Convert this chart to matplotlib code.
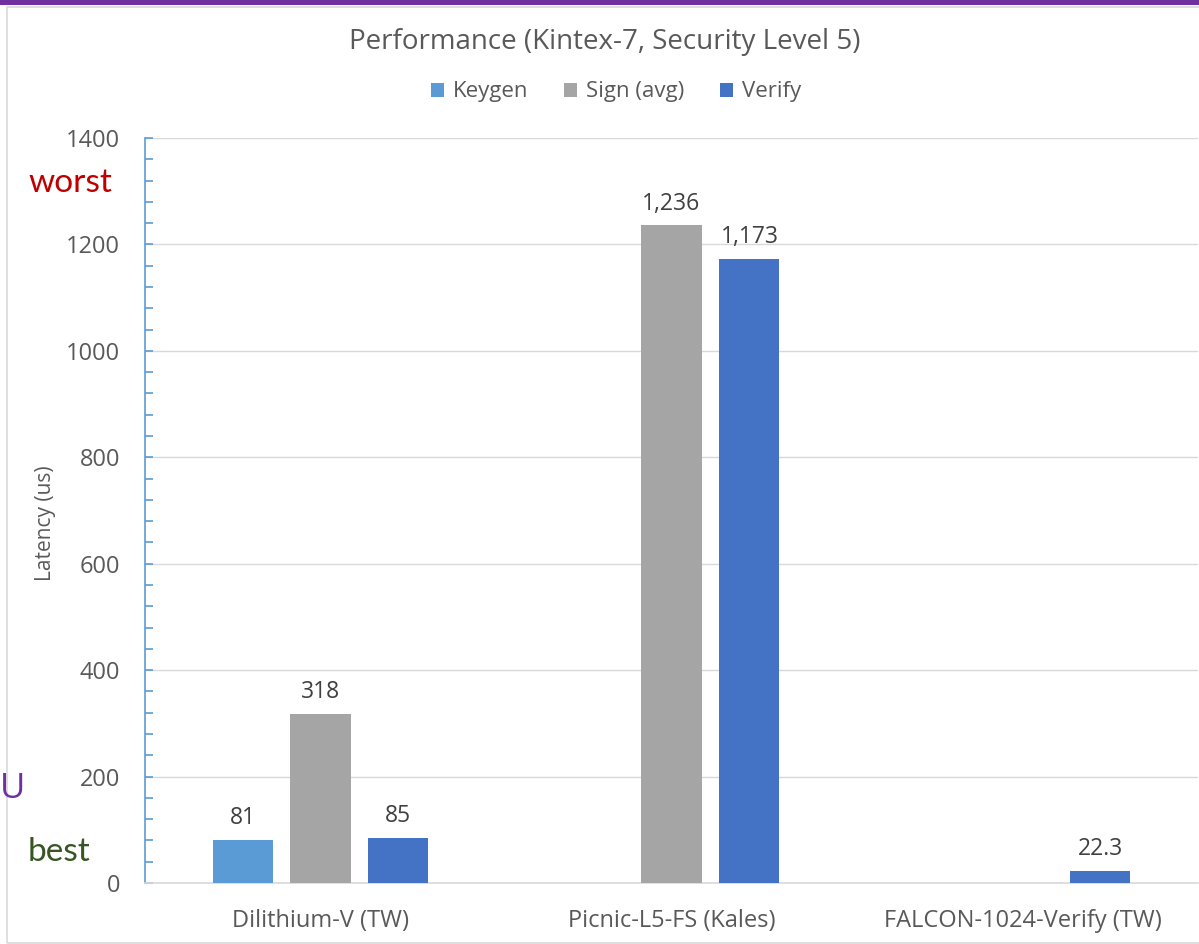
import numpy as np
import matplotlib.pyplot as plt
from matplotlib.patches import Rectangle
from matplotlib.ticker import MultipleLocator

# Latency per design, microseconds (NaN where no result was reported)
designs = ["Dilithium-V (TW)", "Picnic-L5-FS (Kales)", "FALCON-1024-Verify (TW)"]
keygen = [81, np.nan, np.nan]
sign_avg = [318, 1236, np.nan]
verify = [85, 1173, 22.3]

series = [("Keygen", keygen, "#5B9BD5"),
          ("Sign (avg)", sign_avg, "#A5A5A5"),
          ("Verify", verify, "#4472C4")]

plt.rcParams['font.family'] = ['Open Sans', 'DejaVu Sans']
text_gray = "#595959"

fig = plt.figure(figsize=(11.99, 9.44), dpi=100)
ax = fig.add_axes([145 / 1199, 61 / 944, 1053 / 1199, 745 / 944])

# chart frame and purple top band
fig.patches.append(Rectangle((7 / 1199, 1 / 944), 1.2, 936 / 944,
                             transform=fig.transFigure, fill=False,
                             edgecolor="#D9D9D9", linewidth=1.2))
fig.patches.append(Rectangle((0, 939 / 944), 1, 5 / 944,
                             transform=fig.transFigure, facecolor="#7030A0",
                             edgecolor="none"))

x = np.arange(len(designs))
width = 0.171
offsets = [-0.222, 0.0, 0.222]
for (name, vals, color), off in zip(series, offsets):
    bars = ax.bar(x + off, vals, width, color=color, label=name, zorder=3)
    for b, v in zip(bars, vals):
        if np.isnan(v):
            continue
        ax.annotate(f"{v:,g}", (b.get_x() + b.get_width() / 2, v),
                    xytext=(0, 7), textcoords="offset points",
                    ha="center", va="bottom", fontsize=16.5, color="#404040")

ax.set_xlim(-0.5, 2.5)
ax.set_ylim(0, 1400)
ax.yaxis.set_major_locator(MultipleLocator(200))
ax.yaxis.set_minor_locator(MultipleLocator(40))
ax.grid(axis="y", color="#D9D9D9", linewidth=1, zorder=0)
ax.set_xticks(x)
ax.set_xticklabels(designs)
ax.tick_params(axis="x", length=0, pad=19, labelsize=17, labelcolor=text_gray)
ax.tick_params(axis="y", which="major", direction="in", length=5.5, width=1.2,
               color="#5B9BD5", labelsize=17, labelcolor=text_gray, pad=18)
ax.tick_params(axis="y", which="minor", direction="in", length=5.5, width=1.2,
               color="#5B9BD5")
for side in ["top", "right"]:
    ax.spines[side].set_visible(False)
ax.spines["left"].set_color("#5B9BD5")
ax.spines["left"].set_linewidth(1.2)
ax.spines["bottom"].set_color("#D9D9D9")
ax.spines["bottom"].set_linewidth(1.2)

fig.text(46 / 1199, 1 - 523 / 944, "Latency (us)", rotation=90,
         ha="center", va="center", fontsize=15, color=text_gray)

fig.text(605 / 1199, 1 - 42 / 944, "Performance (Kintex-7, Security Level 5)",
         ha="center", va="center", fontsize=20, color=text_gray)
fig.legend(loc="center", bbox_to_anchor=(616 / 1199, 1 - 92 / 944), ncol=3,
           frameon=False, fontsize=16, handlelength=0.6, handleheight=0.6,
           columnspacing=1.6, handletextpad=0.4, labelcolor=text_gray)

# best / worst markers on the left margin
fig.text(28 / 1199, 1 - 183 / 944, "worst", fontsize=24, color="#C00000",
         va="center", ha="left", family="Lato")
fig.text(28 / 1199, 1 - 852 / 944, "best", fontsize=24, color="#375623",
         va="center", ha="left", family="Lato")
fig.text(0, 1 - 789 / 944, "U", fontsize=25, color="#7030A0",
         va="center", ha="left")

fig.savefig("out.png", dpi=100)
